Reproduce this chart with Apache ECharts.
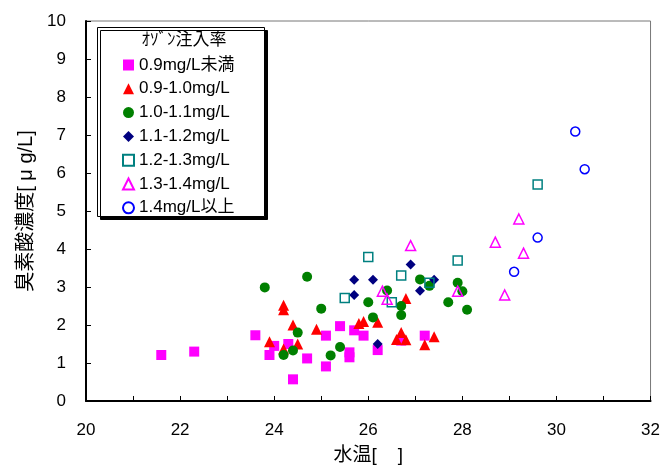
<!DOCTYPE html>
<html>
<head>
<meta charset="utf-8">
<script src="https://cdn.jsdelivr.net/npm/echarts@6/dist/echarts.min.js"></script>
<style>
  html, body { margin: 0; padding: 0; background: #fff; }
  #chart { width: 663px; height: 470px; }
</style>
</head>
<body>
<div id="chart"></div>
<script>
// 水温 [℃] と 臭素酸濃度 [μg/L] の組 (オゾン注入率ごと)
const seriesNames = ['0.9mg/L未満', '0.9-1.0mg/L', '1.0-1.1mg/L', '1.1-1.2mg/L', '1.2-1.3mg/L', '1.3-1.4mg/L', '1.4mg/L以上'];

const below09 = [[21.6,1.21],[22.3,1.30],[23.6,1.73],[24.0,1.45],[23.9,1.21],[24.3,1.50],[24.4,0.57],[24.7,1.12],
  [25.1,1.72],[25.1,0.91],[25.4,1.97],[25.7,1.86],[25.9,1.72],[25.6,1.28],[25.6,1.15],[26.2,1.34],[26.7,1.59],[27.2,1.72]];
const rate0910 = [[24.2,2.52],[24.2,2.40],[24.4,2.00],[23.9,1.56],[24.2,1.37],[24.5,1.50],[24.9,1.89],[25.8,2.04],
  [25.9,2.09],[26.2,2.07],[26.8,2.70],[26.7,1.80],[26.6,1.62],[26.8,1.61],[27.2,1.48],[27.4,1.69]];
const rate1011 = [[23.8,2.99],[24.7,3.27],[25.0,2.43],[24.5,1.80],[24.4,1.33],[24.2,1.21],[26.4,2.91],[26.0,2.60],
  [26.1,2.20],[25.4,1.42],[25.2,1.20],[26.7,2.50],[26.7,2.26],[27.1,3.20],[27.3,3.03],[27.9,3.11],[28.0,2.89],[27.7,2.60],[28.1,2.40]];
const rate1112 = [[26.9,3.59],[25.7,3.19],[26.1,3.19],[25.7,2.79],[27.4,3.19],[27.1,2.90],[26.2,1.50]];
const rate1213 = [[26.0,3.79],[26.7,3.30],[27.9,3.70],[25.5,2.71],[26.5,2.60],[27.3,3.11],[29.6,5.70]];
const rate1314 = [[26.9,4.09],[26.3,2.89],[26.4,2.68],[27.9,2.89],[29.2,4.79],[28.7,4.18],[29.3,3.89],[28.9,2.79]];
const above14 = [[30.4,7.09],[30.6,6.10],[29.6,4.30],[29.1,3.40]];

const xTicks = { min: 20, max: 32, step: 2 };
const yTicks = { min: 0, max: 10, step: 1 };

const FONT = "'Liberation Sans', 'Noto Sans CJK JP', sans-serif";

function filled(name, data, symbol, color, size) {
  return { name, type: 'scatter', data, symbol, symbolSize: size,
    itemStyle: { color, opacity: 1 } };
}
function hollow(name, data, symbol, color, size) {
  return { name, type: 'scatter', data, symbol, symbolSize: size,
    itemStyle: { color: 'rgba(255,255,255,0)', borderColor: color, borderWidth: 1.5, opacity: 1 } };
}

const chart = echarts.init(document.getElementById('chart'));
chart.setOption({
  backgroundColor: '#fff',
  animation: false,
  textStyle: { fontFamily: FONT },
  grid: { left: 86, top: 21, right: 11, bottom: 65, show: true, borderColor: '#777', borderWidth: 1 },
  xAxis: {
    type: 'value', min: xTicks.min, max: xTicks.max, interval: xTicks.step,
    name: '水温[    ]', nameLocation: 'middle', nameGap: 45,
    nameTextStyle: { fontSize: 19, color: '#000', fontFamily: FONT },
    axisLine: { show: true, lineStyle: { color: '#000', width: 2 } },
    axisTick: { show: true, inside: true, length: 5, lineStyle: { color: '#000' } },
    minorTick: { show: true, splitNumber: 2, length: 5, lineStyle: { color: '#000' } },
    splitLine: { show: false },
    axisLabel: { fontSize: 17, color: '#000', margin: 21, fontFamily: FONT }
  },
  yAxis: {
    type: 'value', min: yTicks.min, max: yTicks.max, interval: yTicks.step,
    name: '臭素酸濃度[ μ g/L]', nameLocation: 'middle', nameGap: 48, nameRotate: 90,
    nameTextStyle: { fontSize: 20, color: '#000', fontFamily: FONT },
    axisLine: { show: true, lineStyle: { color: '#000', width: 2 } },
    axisTick: { show: true, inside: true, length: 5, lineStyle: { color: '#000' } },
    splitLine: { show: false },
    axisLabel: { fontSize: 17, color: '#000', margin: 20, fontFamily: FONT }
  },
  graphic: [
    { type: 'rect', left: 97, top: 27, z: 5,
      shape: { width: 167, height: 189 },
      style: { fill: '#fff', stroke: '#000', lineWidth: 1,
               shadowColor: '#000', shadowOffsetX: 3, shadowOffsetY: 3, shadowBlur: 0 } },
    { type: 'text', x: 184, y: 30, z: 6,
      style: { text: 'ｵｿﾞﾝ注入率', font: "17px 'Noto Sans CJK JP', sans-serif", fill: '#000', textAlign: 'center' } }
  ],
  legend: {
    orient: 'vertical', left: 117, top: 51, z: 7,
    itemWidth: 11, itemHeight: 11, itemGap: 5.8,
    textStyle: { fontSize: 17, color: '#000', lineHeight: 18, fontFamily: FONT },
    data: seriesNames
  },
  series: [
    filled(seriesNames[0], below09, 'rect', '#FF00FF', 10),
    filled(seriesNames[1], rate0910, 'triangle', '#FF0000', 11),
    filled(seriesNames[2], rate1011, 'circle', '#008000', 10),
    filled(seriesNames[3], rate1112, 'diamond', '#000080', 10),
    hollow(seriesNames[4], rate1213, 'rect', '#008080', 9),
    hollow(seriesNames[5], rate1314, 'triangle', '#FF00FF', 10),
    hollow(seriesNames[6], above14, 'circle', '#0000FF', 9)
  ]
});
</script>
</body>
</html>
